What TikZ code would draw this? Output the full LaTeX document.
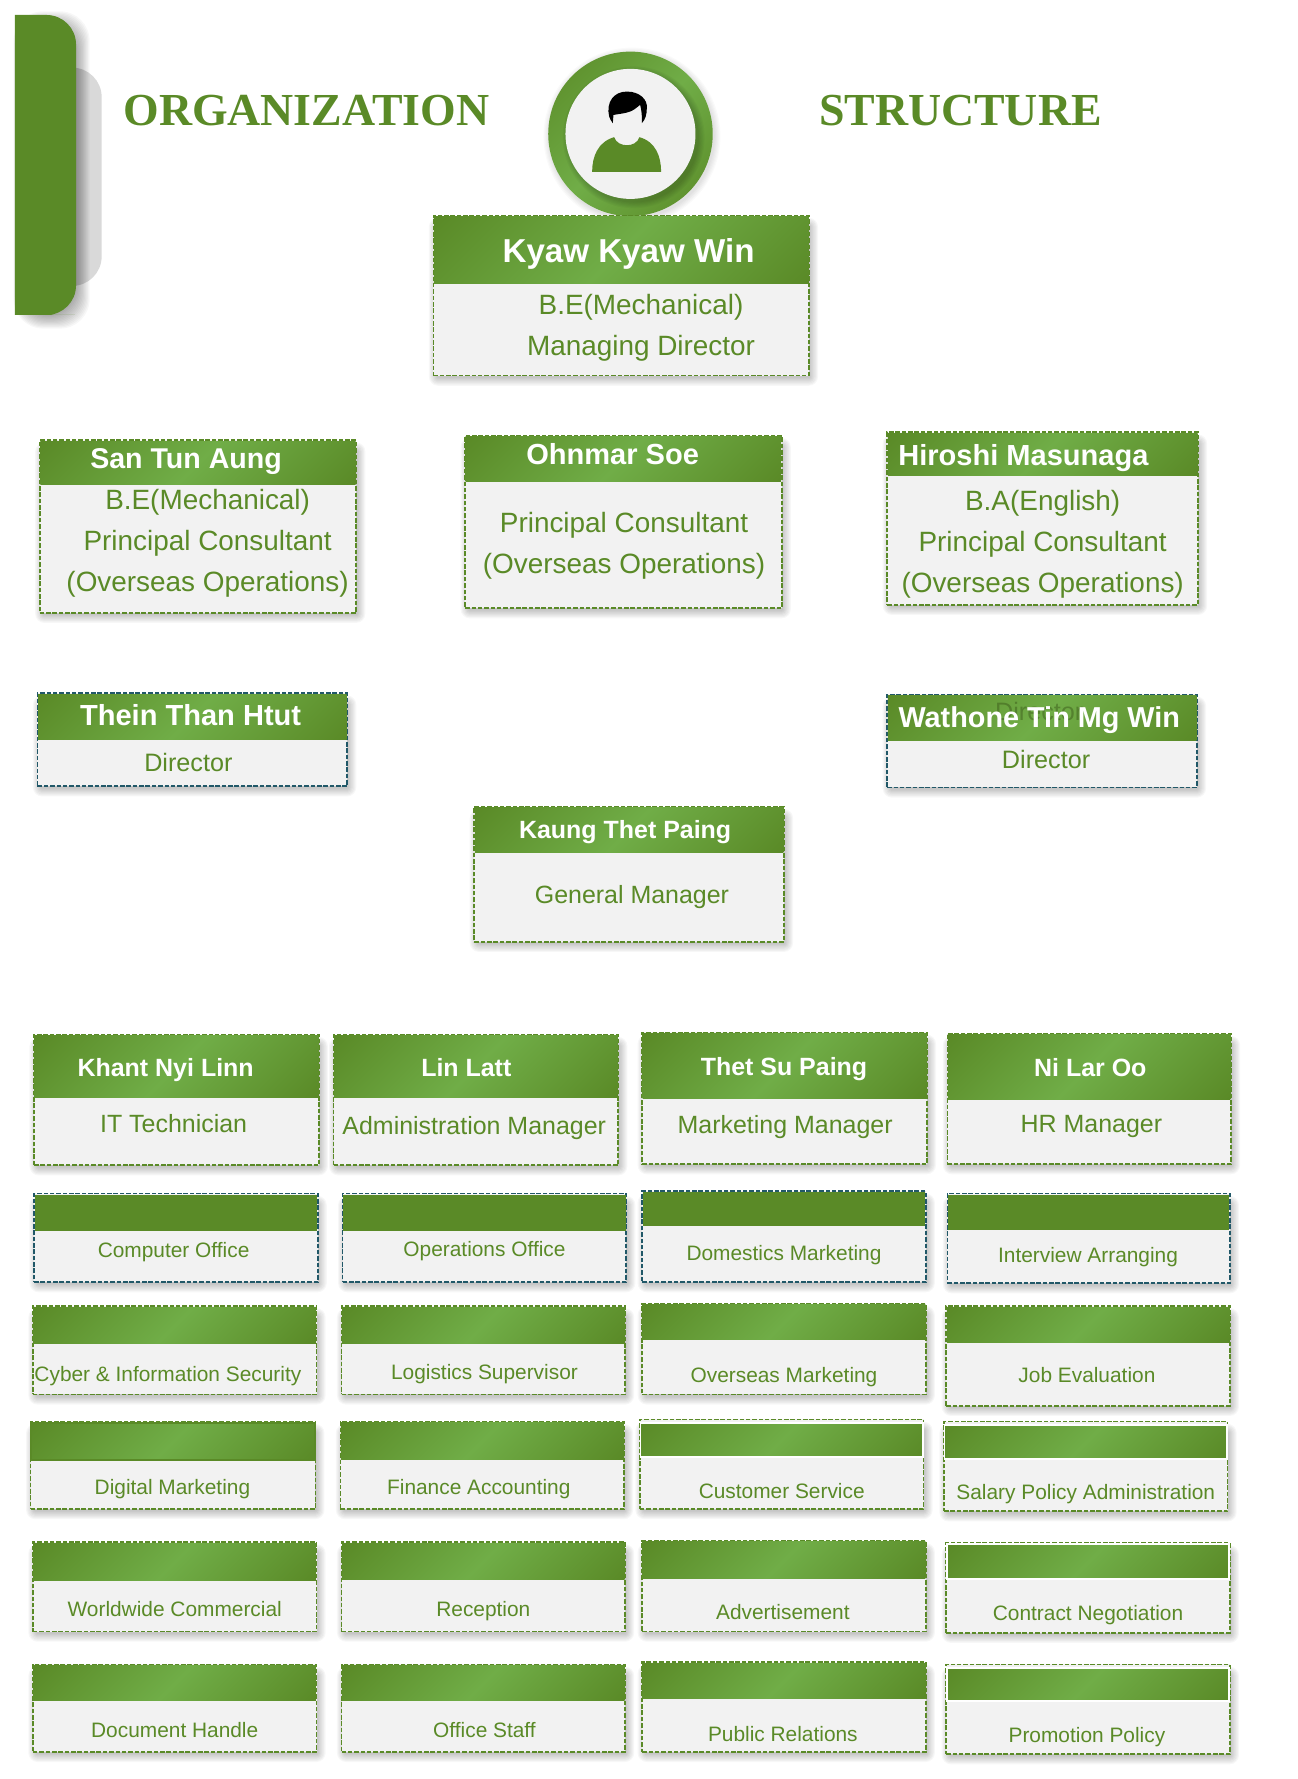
\documentclass[tikz,border=0pt]{standalone}
\usepackage{fontspec}
\setmainfont{Liberation Sans}
\newfontfamily\headfont{Liberation Serif}
\definecolor{leaf}{HTML}{5A8A27}
\definecolor{leaflight}{HTML}{70AD47}
\definecolor{paper}{HTML}{F2F2F2}
\definecolor{petrol}{HTML}{215868}
\definecolor{sidegrey}{HTML}{D9D9D9}
\pgfdeclareverticalshading{leafband}{100bp}{color(0bp)=(leaf); color(15bp)=(leaf);
  color(50bp)=(leaflight); color(85bp)=(leaf); color(100bp)=(leaf)}
% name, left, top, right, bottom, header bottom, edge colour, header style, header inset
\newcommand{\orgcard}[9]{
  \foreach \sprd in {1,...,8}
    \fill[black, opacity=.032, rounded corners=\sprd*0.5pt]
      (#2-\sprd+4,#3-\sprd+10) rectangle (#4+\sprd,#5+\sprd+1);
  \node[cardbody, draw=#7, minimum width={(#4-#2)*0.5pt}, minimum height={(#5-#3)*0.5pt}]
    (#1) at ({(#2+#4)/2},{(#3+#5)/2}) {};
  \node[#8, minimum width={(#4-#2-1)*0.5pt}, minimum height={(#6-#3-#9)*0.5pt}]
    (#1-head) at ({(#2+#4)/2},{(#3+#9+#6)/2}) {};
}
\begin{document}
\begin{tikzpicture}[
  x=0.5pt, y=-0.5pt,
  cardbody/.style={rectangle, dash pattern=on 2pt off 0.8pt, line width=0.75pt, fill=paper,
                   inner sep=0pt, outer sep=0pt},
  hdrband/.style={rectangle, inner sep=0pt, outer sep=0pt, shade, shading=leafband, shading angle=45},
  hdrflat/.style={rectangle, inner sep=0pt, outer sep=0pt, fill=leaf},
  hdrframe/.style={hdrband, draw=leaf, line width=0.7pt},
  hdrwhite/.style={hdrband, draw=white, line width=0.8pt},
  nameplate/.style={text=white, font=\fontsize{#1}{15}\selectfont\bfseries, inner sep=0pt,
                    anchor=base, yshift={-0.36*#1 pt}},
  duty/.style={text=leaf, font=\fontsize{#1}{18}\selectfont, inner sep=0pt,
               anchor=base, yshift={-0.36*#1 pt}},
  dutyblock/.style={text=leaf, align=center, font=\fontsize{12.3}{18}\selectfont, inner sep=0pt,
                    yshift=-1pt},
  banner/.style={text=leaf, font=\headfont\fontsize{20.2}{24}\selectfont\bfseries, inner sep=0pt},
]
\useasboundingbox (0,0) rectangle (1144,1568);

% side tab
\fill[sidegrey, rounded corners=13pt] (30,59.6) rectangle (89.6,252);
\foreach \sprd in {1,...,12}
  \fill[black, opacity=.03, rounded corners=13pt] (18-\sprd*.5,22-\sprd) rectangle (67+\sprd,277.6+\sprd);
\fill[leaf] (13.2,13.2) [rounded corners=13pt] -- (67,13.2) -- (67,277.6) -- (40,277.6)
  [sharp corners] -- (13.2,277.6) -- cycle;

\node[banner] (orgword) at (270,97) {ORGANIZATION};
\node[banner] (structword) at (846.5,97) {STRUCTURE};

% portrait
\foreach \sprd in {1,...,6}
  \fill[black, opacity=.02] (557,120) circle[radius=72+\sprd];
\shade[shading=leafband, shading angle=45] (555.7,118) circle[radius=72.5];
\foreach \sprd in {1,...,6}
  \fill[black, opacity=.03] (558.5,121) circle[radius=56.5+\sprd];
\fill[paper] (555.7,118) circle[radius=57.3];
\fill[leaf] (521.9,151.5) .. controls (521.9,138) and (527,125) .. (541.3,120.9)
  .. controls (543,126) and (548,128) .. (552.5,128)
  .. controls (557,128) and (562,126) .. (563.6,120.9)
  .. controls (578,125) and (582.7,138) .. (582.7,151.5) -- cycle;
\fill[black] (536.9,102.7) .. controls (534,90) and (541,80.7) .. (552.5,80.7)
  .. controls (564,80.7) and (571,88) .. (570.1,95.4)
  .. controls (570,101) and (569,105) .. (565.7,108.6)
  .. controls (566,103) and (565.5,97) .. (564.2,92.4)
  .. controls (561,95) and (558,97.5) .. (555.4,98.3)
  .. controls (551,100) and (545,100.5) .. (540.7,101.3)
  .. controls (540.5,104) and (540.3,106) .. (540.1,108.6)
  .. controls (538.5,106.5) and (537.5,104.5) .. (536.9,102.7) -- cycle;

% top of the chart
\orgcard{kyaw}{382}{190}{713}{331}{250}{leaf}{hdrband}{1}
\node[nameplate=14.6] (kyaw-name) at (554,221) {Kyaw Kyaw Win};
\node[dutyblock] (kyaw-job) at (565,287) {B.E(Mechanical)\\Managing Director};

\orgcard{santun}{35}{388}{314}{540}{427}{leaf}{hdrband}{1}
\node[nameplate=12.6] (santun-name) at (164,404) {San Tun Aung};
\node[dutyblock] (santun-job) at (183,477) {B.E(Mechanical)\\Principal Consultant\\(Overseas Operations)};

\orgcard{ohnmar}{410}{384}{689}{536}{424}{leaf}{hdrband}{1}
\node[nameplate=12.8] (ohnmar-name) at (540,400) {Ohnmar Soe};
\node[dutyblock] (ohnmar-job) at (550,479) {Principal Consultant\\(Overseas Operations)};

\orgcard{hiroshi}{782}{381}{1056}{533}{419}{leaf}{hdrband}{1}
\node[nameplate=12.8] (hiroshi-name) at (902,401) {Hiroshi Masunaga};
\node[dutyblock] (hiroshi-job) at (919,478) {B.A(English)\\Principal Consultant\\(Overseas Operations)};

\orgcard{thein}{33}{611}{306}{693}{652}{petrol}{hdrband}{1}
\node[nameplate=12.8] (thein-name) at (168,630) {Thein Than Htut};
\node[duty=11.1] (thein-job) at (166,672) {Director};

\orgcard{wathone}{782}{612}{1055}{694}{653}{petrol}{hdrband}{1}
\node[duty=11.1, text=leaf!60!black, opacity=.45] (wathone-ghost) at (916,627) {Director};
\node[nameplate=12.7] (wathone-name) at (916,632) {Wathone Tin Mg Win};
\node[duty=11.1] (wathone-job) at (922,669) {Director};

\orgcard{kaung}{418}{711}{691}{830}{751}{leaf}{hdrband}{1}
\node[nameplate=11] (kaung-name) at (551,731) {Kaung Thet Paing};
\node[duty=11] (kaung-job) at (557,788) {General Manager};

% managers
\orgcard{khant}{30}{912}{281}{1027}{967}{leaf}{hdrband}{1}
\node[nameplate=11] (khant-name) at (146,941) {Khant Nyi Linn};
\node[duty=11] (khant-job) at (153,990) {IT Technician};
\orgcard{linlatt}{294}{912}{545}{1027}{967}{leaf}{hdrband}{1}
\node[nameplate=11] (linlatt-name) at (411,941) {Lin Latt};
\node[duty=11] (linlatt-job) at (418,992) {Administration Manager};
\orgcard{thetsu}{566}{910}{817}{1026}{968}{leaf}{hdrband}{1}
\node[nameplate=11] (thetsu-name) at (691,940) {Thet Su Paing};
\node[duty=11] (thetsu-job) at (692,991) {Marketing Manager};
\orgcard{nilar}{835}{911}{1085}{1026}{969}{leaf}{hdrband}{1}
\node[nameplate=11] (nilar-name) at (961,941) {Ni Lar Oo};
\node[duty=11] (nilar-job) at (962,990) {HR Manager};

% first row of offices
\orgcard{computer}{30}{1052}{280}{1130}{1085}{petrol}{hdrflat}{1}
\node[duty=9.2] (computer-job) at (153,1102) {Computer Office};
\orgcard{operations}{302}{1052}{552}{1130}{1085}{petrol}{hdrflat}{1}
\node[duty=9.2] (operations-job) at (427,1101) {Operations Office};
\orgcard{domestics}{566}{1050}{816}{1130}{1081}{petrol}{hdrflat}{1}
\node[duty=9.2] (domestics-job) at (691,1104) {Domestics Marketing};
\orgcard{interview}{835}{1052}{1084}{1131}{1084}{petrol}{hdrflat}{1}
\node[duty=9.2] (interview-job) at (959,1106) {Interview Arranging};

% second row
\orgcard{cyber}{29}{1151}{279}{1229}{1184}{leaf}{hdrband}{1}
\node[duty=9.2] (cyber-job) at (148,1211) {Cyber \& Information Security};
\orgcard{logistics}{301}{1151}{551}{1229}{1184}{leaf}{hdrband}{1}
\node[duty=9.2] (logistics-job) at (427,1209) {Logistics Supervisor};
\orgcard{overseas}{566}{1149}{816}{1229}{1181}{leaf}{hdrband}{1}
\node[duty=9.2] (overseas-job) at (691,1212) {Overseas Marketing};
\orgcard{jobeval}{834}{1151}{1084}{1239}{1183}{leaf}{hdrband}{1}
\node[duty=9.2] (jobeval-job) at (958,1212) {Job Evaluation};

% third row
\orgcard{digital}{27}{1253}{278}{1330}{1287}{leaf}{hdrframe}{1}
\node[duty=9.2] (digital-job) at (152,1311) {Digital Marketing};
\orgcard{finance}{300}{1253}{550}{1330}{1286}{leaf}{hdrband}{1}
\node[duty=9.2] (finance-job) at (422,1311) {Finance Accounting};
\orgcard{customer}{564}{1251}{814}{1330}{1284}{leaf}{hdrwhite}{3}
\node[duty=9.2] (customer-job) at (689,1314) {Customer Service};
\orgcard{salary}{832}{1253}{1082}{1332}{1286}{leaf}{hdrwhite}{3}
\node[duty=9.2] (salary-job) at (957,1315) {Salary Policy Administration};

% fourth row
\orgcard{worldwide}{29}{1359}{279}{1438}{1393}{leaf}{hdrband}{1}
\node[duty=9.2] (worldwide-job) at (154,1418) {Worldwide Commercial};
\orgcard{reception}{301}{1359}{551}{1438}{1392}{leaf}{hdrband}{1}
\node[duty=9.2] (reception-job) at (426,1418) {Reception};
\orgcard{advert}{566}{1358}{816}{1438}{1391}{leaf}{hdrband}{1}
\node[duty=9.2] (advert-job) at (690,1421) {Advertisement};
\orgcard{contract}{834}{1360}{1084}{1439}{1392}{leaf}{hdrwhite}{1}
\node[duty=9.2] (contract-job) at (959,1422) {Contract Negotiation};

% fifth row
\orgcard{document}{29}{1467}{279}{1544}{1499}{leaf}{hdrband}{1}
\node[duty=9.2] (document-job) at (154,1525) {Document Handle};
\orgcard{staff}{301}{1467}{551}{1544}{1499}{leaf}{hdrband}{1}
\node[duty=9.2] (staff-job) at (427,1525) {Office Staff};
\orgcard{public}{566}{1465}{816}{1544}{1497}{leaf}{hdrband}{1}
\node[duty=9.2] (public-job) at (690,1528) {Public Relations};
\orgcard{promotion}{834}{1467}{1084}{1546}{1499}{leaf}{hdrwhite}{3}
\node[duty=9.2] (promotion-job) at (958,1529) {Promotion Policy};
\end{tikzpicture}
\end{document}
